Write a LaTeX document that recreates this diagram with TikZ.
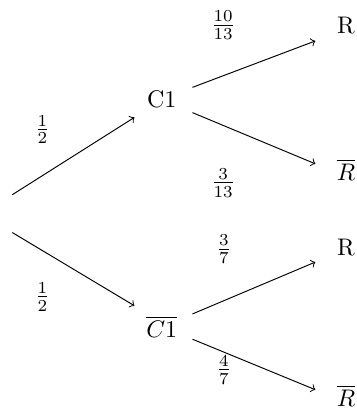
\documentclass[tikz,border=0pt]{standalone}
\usepackage{amsmath,amssymb}
\begin{document}
\begin{tikzpicture}[>=to]
          \useasboundingbox (0,0) rectangle (5.23,-6.11);
          \node[inner sep=0pt,minimum height=0.54cm] (raiz) at (0.18,-3.13) {};
          \node (C1) at (2.37,-1.46) {C1};
          \node (C1b) at (2.37,-4.79) {$\overline{C1}$};
          \node (R1) at (5.07,-0.37) {R};
          \node (R1b) at (5.07,-2.49) {$\overline{R}$};
          \node (R2) at (5.07,-3.63) {R};
          \node (R2b) at (5.07,-5.80) {$\overline{R}$};
          \draw[->] (raiz.north) -- ([shift={(-0.40,-0.26)}]C1.center);
          \draw[->] (raiz.south) -- ([shift={(-0.40,0.31)}]C1b.center);
          \draw[->] ([shift={(0.45,0.18)}]C1.center) -- ([shift={(-0.45,-0.23)}]R1.center);
          \draw[->] ([shift={(0.45,-0.19)}]C1.center) -- ([shift={(-0.45,0.09)}]R1b.center);
          \draw[->] ([shift={(0.45,0.19)}]C1b.center) -- ([shift={(-0.45,-0.21)}]R2.center);
          \draw[->] ([shift={(0.45,-0.18)}]C1b.center) -- ([shift={(-0.45,0.09)}]R2b.center);
          \node (p1) at (0.62,-1.90) {$\frac{1}{2}$};
          \node (p2) at (0.62,-4.35) {$\frac{1}{2}$};
          \node (p3) at (3.27,-0.37) {$\frac{10}{13}$};
          \node (p4) at (3.27,-2.68) {$\frac{3}{13}$};
          \node (p5) at (3.28,-3.65) {$\frac{3}{7}$};
          \node (p6) at (3.28,-5.42) {$\frac{4}{7}$};
        \end{tikzpicture}
\end{document}
